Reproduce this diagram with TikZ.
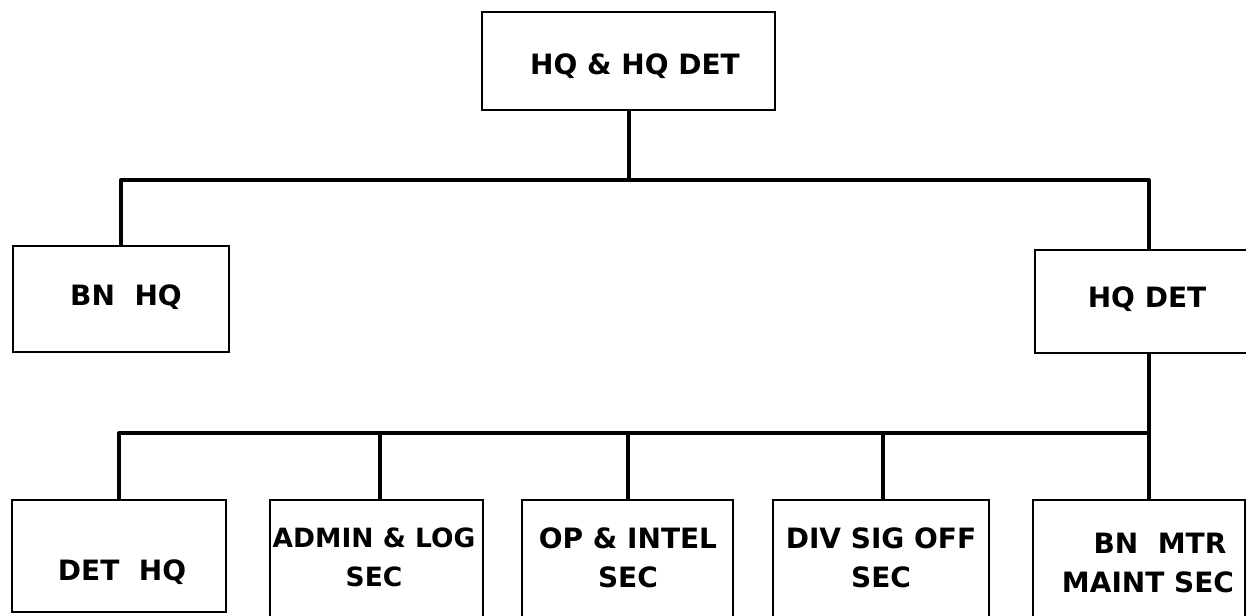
\documentclass[tikz,border=0pt]{standalone}
\usepackage{fontspec}
\setmainfont{DejaVu Sans}
\begin{document}
\begin{tikzpicture}[x=1pt,y=-1pt,
  box/.style={draw, line width=2pt, rectangle, inner sep=0pt},
  lbl/.style={font=\bfseries\fontsize{28}{39}\selectfont, align=center, inner sep=0pt},
  bus/.style={line width=4pt, line join=round}]
\useasboundingbox (0,0) rectangle (1246,615);
\clip (0,0) rectangle (1246,615);
% boxes
\node[box, minimum width=293pt, minimum height=98pt]  (top)   at (628.5,61)  {};
\node[box, minimum width=216pt, minimum height=106pt] (bnhq)  at (121,299)   {};
\node[box, minimum width=227pt, minimum height=103pt] (hqdet) at (1148.5,301.5) {};
\node[box, minimum width=214pt, minimum height=112pt] (dethq) at (119,556)   {};
\node[box, minimum width=213pt, minimum height=140pt] (admin) at (376.5,570) {};
\node[box, minimum width=211pt, minimum height=140pt] (op)    at (627.5,570) {};
\node[box, minimum width=216pt, minimum height=140pt] (div)   at (881,570)   {};
\node[box, minimum width=212pt, minimum height=140pt] (mtr)   at (1139,570)  {};
% labels
\node[lbl, anchor=base] (top-t)   at (635,75)   {HQ \& HQ DET};
\node[lbl, anchor=base] (bnhq-t)  at (126,305)  {BN\ \ HQ};
\node[lbl, anchor=base] (hqdet-t) at (1147,307) {HQ DET};
\node[lbl, anchor=base] (dethq-t) at (122,580)  {DET\ \ HQ};
\node[lbl, font=\bfseries\fontsize{26.5}{39}\selectfont] (admin-t) at (374,557.5)  {ADMIN \& LOG\\SEC};
\node[lbl] (op-t)    at (628,557.5)  {OP \& INTEL\\SEC};
\node[lbl] (div-t)   at (881,557.5)  {DIV SIG OFF\\SEC};
\node[lbl] (mtr-t)   at (1148,562.5) {\hspace*{24pt}BN\ \ MTR\\MAINT SEC};
% connectors
\coordinate (bus1) at (0,180);
\coordinate (bus2) at (0,433);
\draw[bus] (top.south) -- (top.south |- bus1);
\draw[bus] (bnhq.north) -- (bnhq.north |- bus1) -- (hqdet.north |- bus1) -- (hqdet.north);
\draw[bus] (hqdet.south) -- (hqdet.south |- mtr.north);
\draw[bus] (dethq.north) -- (dethq.north |- bus2) -- (hqdet.south |- bus2);
\draw[bus] ([xshift=3.5pt]admin.north) -- ([xshift=3.5pt]admin.north |- bus2);
\draw[bus] (op.north) -- (op.north |- bus2);
\draw[bus] ([xshift=2pt]div.north) -- ([xshift=2pt]div.north |- bus2);
\end{tikzpicture}
\end{document}
